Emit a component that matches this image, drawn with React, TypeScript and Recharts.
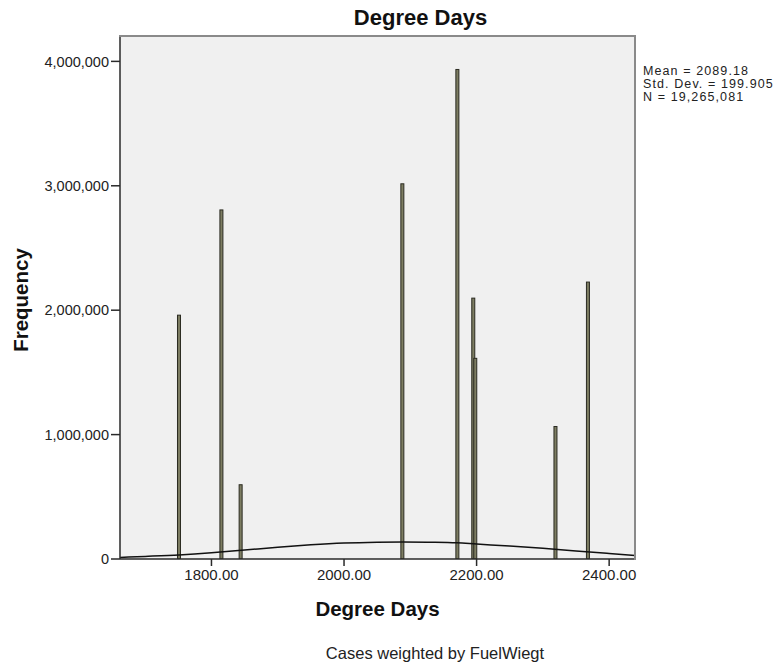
import {
  ComposedChart,
  Bar,
  Line,
  XAxis,
  YAxis,
  CartesianGrid,
} from 'recharts'

// bar positions (Degree Days) and weighted frequencies
const barDays = [1751, 1815, 1844, 2088, 2171, 2195, 2198, 2319, 2368]
const barFreq = [1960000, 2806000, 597000, 3016000, 3935000, 2097000, 1613000, 1065000, 2226000]

// normal curve
const curveDays = [1662, 1700, 1751, 1800, 1850, 1900, 1950, 2000, 2050, 2089, 2130, 2170, 2200, 2250, 2300, 2350, 2400, 2439]
const curveFreq = [13000, 21000, 33000, 50000, 72000, 95000, 114000, 128000, 135000, 137000, 135000, 130000, 120000, 104000, 86000, 64000, 44000, 29000]

const xTicks = [1800, 2000, 2200, 2400]
const yTicks = [0, 1000000, 2000000, 3000000, 4000000]

const statLines = ['Mean = 2089.18', 'Std. Dev. = 199.905', 'N = 19,265,081']

const FONT = '"Liberation Sans", Arial, sans-serif'
const AXIS = '#2a2a2a'

const rows = (() => {
  const map = new Map<number, { day: number; freq?: number; curve?: number }>()
  barDays.forEach((d, i) => map.set(d, { ...(map.get(d) || { day: d }), freq: barFreq[i] }))
  curveDays.forEach((d, i) => map.set(d, { ...(map.get(d) || { day: d }), curve: curveFreq[i] }))
  return [...map.values()].sort((a, b) => a.day - b.day)
})()

// recharts squeezes the band to the closest pair of bars (2195/2198),
// so draw a fixed thin bar centred on the band instead
function ThinBar(props: { x?: number; y?: number; width?: number; height?: number }) {
  const { x = 0, y = 0, width = 0, height = 0 } = props
  if (height <= 0) return null
  const w = 3
  const cx = x + width / 2
  return (
    <rect
      x={cx - w / 2}
      y={y}
      width={w}
      height={height}
      fill="#7d7d62"
      stroke="#2b2b22"
      strokeWidth={1}
    />
  )
}

export default function App() {
  return (
    <div style={{ position: 'absolute', left: 0, top: 0, width: 778, height: 669, background: '#fff', fontFamily: FONT }}>
      <ComposedChart
        width={778}
        height={669}
        data={rows}
        margin={{ top: 36, right: 143, bottom: 0, left: 0 }}
      >
        <CartesianGrid fill="#f0f0f0" horizontal={false} vertical={false} />
        <XAxis
          dataKey="day"
          type="number"
          domain={[1662, 2439]}
          ticks={xTicks}
          tickFormatter={(v: number) => v.toFixed(2)}
          tick={{ fontSize: 15, fill: '#222', fontFamily: FONT }}
          stroke={AXIS}
          strokeWidth={1.5}
          tickSize={7}
          tickMargin={3}
          height={110}
          allowDataOverflow
        />
        <YAxis
          type="number"
          domain={[0, 4204000]}
          ticks={yTicks}
          tickFormatter={(v: number) => v.toLocaleString('en-US')}
          tick={{ fontSize: 14.5, fill: '#222', fontFamily: FONT }}
          stroke={AXIS}
          strokeWidth={1.5}
          tickSize={9}
          tickMargin={2}
          width={120}
          allowDataOverflow
        />
        <Bar
          dataKey="freq"
          shape={<ThinBar />}
          isAnimationActive={false}
        />
        <Line
          dataKey="curve"
          type="monotone"
          stroke="#111"
          strokeWidth={1.5}
          dot={false}
          connectNulls
          isAnimationActive={false}
        />
      </ComposedChart>

      {/* top and right frame of the plot area */}
      <div
        style={{
          position: 'absolute',
          left: 119,
          top: 35,
          width: 515,
          height: 523,
          borderTop: '2px solid #8a8a8a',
          borderRight: '2px solid #8a8a8a',
          pointerEvents: 'none',
        }}
      />

      <div style={{ position: 'absolute', left: 0, width: 841, top: 5, textAlign: 'center', fontWeight: 'bold', fontSize: 22, lineHeight: '26px', color: '#111' }}>
        Degree Days
      </div>
      <div
        style={{
          position: 'absolute',
          left: 21,
          top: 300,
          transform: 'translate(-50%, -50%) rotate(-90deg)',
          fontWeight: 'bold',
          fontSize: 20.5,
          color: '#111',
          whiteSpace: 'nowrap',
        }}
      >
        Frequency
      </div>
      <div style={{ position: 'absolute', left: 0, width: 755, top: 597, lineHeight: '24px', textAlign: 'center', fontWeight: 'bold', fontSize: 20.5, color: '#111' }}>
        Degree Days
      </div>
      <div style={{ position: 'absolute', left: 0, width: 870, top: 643, lineHeight: '20px', textAlign: 'center', fontSize: 16.5, color: '#222' }}>
        Cases weighted by FuelWiegt
      </div>
      <div style={{ position: 'absolute', left: 643, top: 65, width: 135, fontSize: 12.5, lineHeight: '13px', letterSpacing: 1.1, color: '#222', whiteSpace: 'nowrap' }}>
        {statLines.map(s => (
          <div key={s}>{s}</div>
        ))}
      </div>
    </div>
  )
}
